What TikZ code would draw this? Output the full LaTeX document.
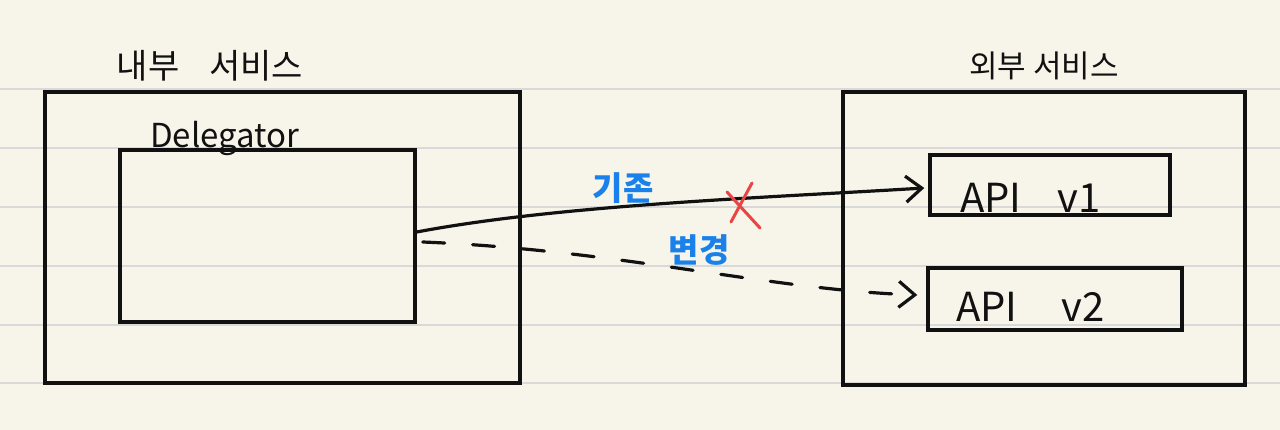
\documentclass[tikz,border=0pt]{standalone}
\usepackage{fontspec}
\setmainfont{Noto Sans CJK KR}
\usetikzlibrary{arrows.meta}
\definecolor{paper}{HTML}{F7F5EA}
\definecolor{rulecol}{HTML}{D9D9D9}
\definecolor{ink}{HTML}{111111}
\definecolor{penblue}{HTML}{1A80EA}
\definecolor{penred}{HTML}{EA4545}
\begin{document}
\begin{tikzpicture}[x=1pt,y=-1pt,
  box/.style={draw=ink, line width=3.4pt, inner sep=0pt},
  title/.style={text=ink, inner sep=0pt, font=\fontsize{34}{38}\selectfont},
  apitext/.style={text=ink, inner sep=0pt, font=\fontsize{40}{44}\selectfont},
  note/.style={text=penblue, inner sep=0pt, font=\fontsize{33}{36}\bfseries},
  conn/.style={draw=ink, line width=3.2pt, line cap=round},
  tip/.style={-{Straight Barb[length=16pt,width=26pt,line width=3.2pt]}}]
\useasboundingbox (0,0) rectangle (1280,430);
\fill[paper] (0,0) rectangle (1280,430);
\foreach \yy in {89,148,207,266,325,383}
  \draw[rulecol, line width=2.6pt] (0,\yy) -- (1280,\yy);

% boxes
\node[box, minimum width=475pt, minimum height=291pt] (outerL) at (282.5,237.5) {};
\node[box, minimum width=295pt, minimum height=172pt] (deleg) at (267.5,236) {};
\node[box, minimum width=402pt, minimum height=293pt] (outerR) at (1044,238.5) {};
\node[box, minimum width=240pt, minimum height=60pt] (v1) at (1050,185) {};
\node[box, minimum width=254pt, minimum height=62pt] (v2) at (1055,299) {};

% titles
\node[title] (tL) at (210,66) {내부\hspace{30pt}서비스};
\node[title, font=\fontsize{31}{34}\selectfont] (tR) at (1044,66) {외부 서비스};
\node[title, font=\fontsize{33}{36}\selectfont, anchor=base west] (tD) at (150,148) {Delegator};
\node[apitext, anchor=base west] (a1) at (960,213) {API\hspace{36pt}v1};
\node[apitext, anchor=base west] (a2) at (956,322) {API\hspace{44pt}v2};

% connectors
\draw[conn, tip] ([yshift=4pt]deleg.east) .. controls (560,205) and (760,198) .. ([xshift=-4pt,yshift=-3pt]v1.west);
\draw[conn, tip, dash pattern=on 22pt off 28pt] ([xshift=6pt,yshift=-6pt]deleg.east) .. controls (620,250) and (770,290) .. ([xshift=-9pt,yshift=4pt]v2.west);

% labels
\node[note] (old) at (623,188) {기존};
\node[note] (new) at (699,250) {변경};

% red cross
\draw[penred, line width=3pt, line cap=round] (727,192) -- (760,228) (752,183) -- (731,222);
\end{tikzpicture}
\end{document}
